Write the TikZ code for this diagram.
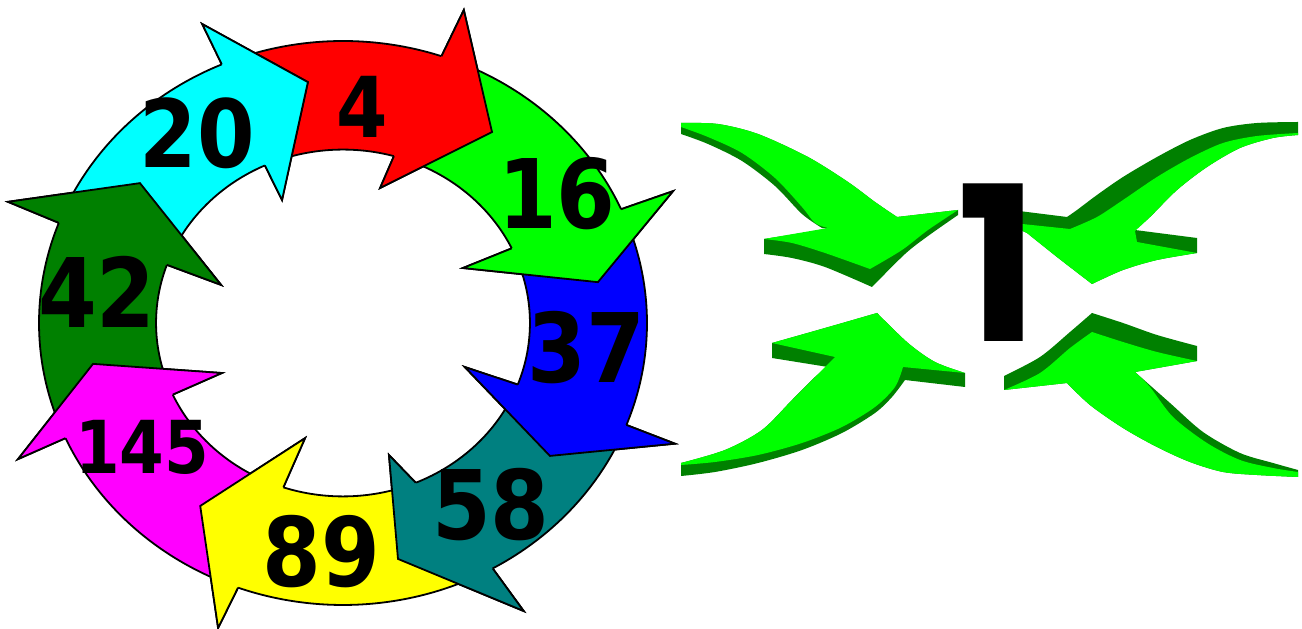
\documentclass[tikz,border=0pt]{standalone}
\usepackage{fontspec}
\usepackage{tikz}
\newfontfamily\ringfont[FakeStretch=0.88]{DejaVu Sans}
\newfontfamily\onefont{Poppins}
\definecolor{ringred}{RGB}{255,0,0}
\definecolor{ringgreen}{RGB}{0,255,0}
\definecolor{ringblue}{RGB}{0,0,255}
\definecolor{ringteal}{RGB}{0,128,128}
\definecolor{ringyellow}{RGB}{255,255,0}
\definecolor{ringmagenta}{RGB}{255,0,255}
\definecolor{ringdkgreen}{RGB}{0,128,0}
\definecolor{ringcyan}{RGB}{0,255,255}
\definecolor{arrowlight}{RGB}{0,255,0}
\definecolor{arrowdark}{RGB}{0,128,0}

\begin{document}
\begin{tikzpicture}[
    x=1pt, y=1pt,
    ringline/.style={draw=black, line width=1.8pt},
    numtext/.style={inner sep=0pt, font=\ringfont\bfseries\fontsize{#1}{#1}\selectfont},
    onetext/.style={inner sep=0pt, font=\onefont\bfseries\fontsize{216}{216}\selectfont},
    lightface/.style={fill=arrowlight},
    darkface/.style={fill=arrowdark}]
  \useasboundingbox (0,0) rectangle (1302,629);
  % outer shoulder / outer barb / tip / inner barb / inner shoulder / tail (outer, notch, inner) / colour
  \def\ringdata{71.1/70.3/1.179/54.1/0.836/75.7/0.494/74.2/111.5/101.7/112.7/ringred,
    23.8/23.3/1.182/9.8/0.851/26.3/0.440/25.5/69.1/58.1/72.2/ringgreen,
    -21.2/-21.4/1.173/-34.7/0.828/-21.3/0.430/-20.8/21.8/13.8/23.5/ringblue,
    -60.5/-59.8/1.182/-77.8/0.856/-72.1/0.492/-67.1/-23.2/-30.7/-22.8/ringteal,
    -110.2/-110.8/1.157/-125.9/0.801/-107.0/0.427/-108.6/-62.5/-73.8/-69.1/ringyellow,
    -155.9/-155.7/1.173/-170.0/0.835/-156.0/0.436/-155.6/-112.2/-121.9/-110.6/ringmagenta,
    -200.8/-201.3/1.183/-216.6/0.832/-198.6/0.423/-199.6/-157.9/-166.0/-157.6/ringdkgreen,
    -246.5/-246.4/1.157/-262.3/0.862/-245.3/0.480/-245.3/-202.8/-212.6/-201.6/ringcyan}

  \begin{scope}[shift={(343pt,306pt)}, x=304pt, y=282pt]
    \foreach \os/\oba/\obr/\tpa/\tpr/\iba/\ibr/\is/\ta/\tn/\ti/\col in \ringdata
      \filldraw[ringline, fill=\col] (\ta:1) arc[start angle=\ta, end angle=\os, radius=1]
        -- (\oba:\obr) -- (\tpa:\tpr) -- (\iba:\ibr) -- (\is:0.615)
        arc[start angle=\is, end angle=\ti, radius=0.615] -- (\tn:0.8) -- cycle;
    % heads again, over the next tail
    \foreach \os/\oba/\obr/\tpa/\tpr/\iba/\ibr/\is/\ta/\tn/\ti/\col in \ringdata {
      \fill[\col] (\os:1) -- (\oba:\obr) -- (\tpa:\tpr) -- (\iba:\ibr) -- (\is:0.615) -- cycle;
      \draw[ringline] (\os:1) -- (\oba:\obr) -- (\tpa:\tpr) -- (\iba:\ibr) -- (\is:0.615);
    }
    \foreach \la/\lr/\sz/\txt in {85.3/0.769/84/4, 33.2/0.841/96/16, -6.1/0.804/96/37,
        -53/0.808/96/58, -95/0.815/96/89, -146.3/0.794/73/145, 172.3/0.817/96/42, 125.5/0.827/94/20}
      \node[numtext=\sz] (n\txt) at (\la:\lr) {\txt};
  \end{scope}

  \begin{scope}[shift={(0pt,629pt)}, y=-1pt]
    % top left
    \fill[darkface] plot[smooth] coordinates {(681,123) (718,124) (758,134) (808,157) (848,182) (875,202) (897,217)}
      -- (958,210) -- plot[smooth] coordinates {(958,215) (928,236) (905,254) (872,287)}
      -- plot[smooth] coordinates {(872,287) (825,267) (792,258) (764,254)} -- (764,239) -- (828,229)
      -- plot[smooth] coordinates {(822,228) (802,214) (775,186) (742,161) (708,144) (681,134)} -- cycle;
    \fill[lightface] plot[smooth] coordinates {(681,123) (718,124) (758,134) (808,157) (848,182) (875,202) (897,217)}
      -- (958,210) -- plot[smooth] coordinates {(958,210) (928,230) (902,250) (870,269)}
      -- plot[smooth] coordinates {(870,269) (825,253) (792,243) (764,239)} -- (828,228)
      -- plot[smooth] coordinates {(828,228) (815,223) (802,207) (775,178) (742,153) (708,137) (681,127)} -- cycle;
    % top right
    \fill[darkface] plot[smooth] coordinates {(1298,122) (1257,123) (1223,128) (1190,140) (1157,157) (1123,177) (1097,195) (1077,210) (1067,217)}
      -- (1027,212) -- (1003,209) -- (1003,222)
      -- plot[smooth] coordinates {(1027,233) (1057,257) (1092,284)}
      -- plot[smooth] coordinates {(1092,284) (1123,270) (1157,260) (1197,253)} -- (1197,238) -- (1135,230)
      -- plot[smooth] coordinates {(1135,230) (1150,217) (1177,190) (1207,167) (1240,148) (1273,138) (1298,135)} -- cycle;
    \fill[lightface] plot[smooth] coordinates {(1298,133) (1257,136) (1223,143) (1190,158) (1157,177) (1123,200) (1097,217) (1070,229)}
      -- (1003,222) -- plot[smooth] coordinates {(1027,233) (1057,257) (1092,284)}
      -- plot[smooth] coordinates {(1092,284) (1123,270) (1157,260) (1197,253)} -- (1137,242) -- (1135,231)
      -- plot[smooth] coordinates {(1135,231) (1150,217) (1177,190) (1207,167) (1240,148) (1273,138) (1298,135)} -- cycle;
    % bottom left
    \fill[darkface] plot[smooth] coordinates {(681,463) (725,450) (762,430) (792,400) (815,377) (828,367)}
      -- (772,358) -- (772,343) -- plot[smooth] coordinates {(772,343) (825,328) (877,313)}
      -- plot[smooth] coordinates {(877,313) (908,343) (935,362) (965,373)} -- (965,387) -- (905,380)
      -- plot[smooth] coordinates {(905,380) (892,397) (875,413) (842,433) (802,450) (758,463) (715,472) (681,476)} -- cycle;
    \fill[lightface] plot[smooth] coordinates {(681,463) (725,450) (762,430) (792,400) (815,377) (835,357)}
      -- (772,343) -- plot[smooth] coordinates {(772,343) (825,328) (877,313)}
      -- plot[smooth] coordinates {(877,313) (908,343) (935,362) (965,373)} -- (903,367)
      -- plot[smooth] coordinates {(903,367) (895,387) (875,407) (842,427) (802,443) (758,455) (715,462) (681,465)} -- cycle;
    % bottom right
    \fill[darkface] plot[smooth] coordinates {(1298,477) (1257,475) (1223,472) (1190,462) (1157,447) (1123,428) (1090,405) (1067,383)}
      -- (1004,390) -- (1004,376) -- plot[smooth] coordinates {(1004,376) (1040,357) (1070,332) (1092,313)}
      -- plot[smooth] coordinates {(1092,313) (1123,323) (1157,335) (1197,346)} -- (1197,361) -- (1135,372)
      -- plot[smooth] coordinates {(1135,372) (1170,403) (1203,432) (1240,453) (1273,463) (1298,470)} -- cycle;
    \fill[lightface] plot[smooth] coordinates {(1298,477) (1257,475) (1223,472) (1190,462) (1157,447) (1123,428) (1090,405) (1067,383)}
      -- (1004,390) -- plot[smooth] coordinates {(1004,390) (1040,373) (1070,348) (1092,332)}
      -- plot[smooth] coordinates {(1092,332) (1123,342) (1157,352) (1197,361)} -- (1135,372)
      -- plot[smooth] coordinates {(1135,372) (1150,387) (1173,417) (1207,443) (1240,460) (1273,468) (1298,472)} -- cycle;
    \node[onetext] (one) at (998,263) {1};
  \end{scope}
\end{tikzpicture}
\end{document}
